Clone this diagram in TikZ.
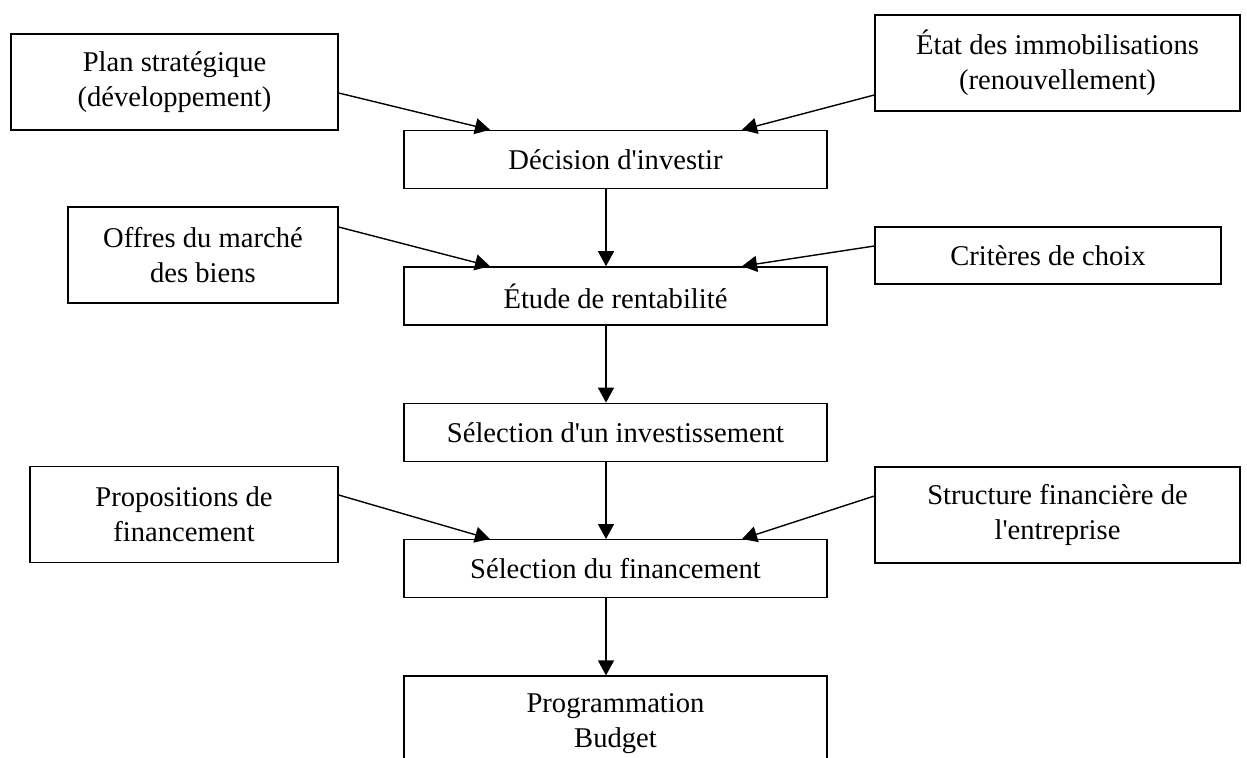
\documentclass[tikz,border=0pt]{standalone}
\usepackage{fontspec}
\setmainfont{Liberation Serif}
\usepackage{tikz}
\usetikzlibrary{positioning,arrows.meta,calc}

\begin{document}
\begin{tikzpicture}[
  x=0.5pt, y=-0.5pt,
  font=\fontsize{14.3}{17.5}\selectfont,
  line width=0.7pt,
  node distance=38.5pt,
  etape/.style={draw, align=center, minimum width=211.5pt, minimum height=29pt},
  entree/.style={draw, align=center, minimum height=48pt},
  arr/.style={-{Triangle[length=7.5pt, width=8pt]}}]
\clip (0,0) rectangle (1247,757);
% colonne centrale
\node[etape] (decision) at (615.5,159.5) {Décision d\textquotesingle investir};
\node[etape, below=of decision] (etude) {Étude de rentabilité};
\node[etape, below=of etude] (selinv) {Sélection d\textquotesingle un investissement};
\node[etape, below=of selinv] (selfin) {Sélection du financement};
\node[etape, below=of selfin, minimum height=48pt] (prog) {Programmation\\Budget};
% entrees
\node[entree, minimum width=163.5pt] (plan) at (174.5,82) {Plan stratégique\\(développement)};
\node[entree, minimum width=182.5pt] (etat) at (1057.5,63) {État des immobilisations\\(renouvellement)};
\node[entree, minimum width=135pt] (offres) at (203,255) {Offres du marché\\des biens};
\node[entree, minimum width=173pt, minimum height=28.5pt] (criteres) at (1048,255.5) {Critères de choix};
\node[entree, minimum width=154pt] (propos) at (184,514.5) {Propositions de\\financement};
\node[entree, minimum width=182.5pt] (structure) at (1057.5,515) {Structure financière de\\l\textquotesingle entreprise};
% fleches
\draw[arr] ([xshift=-4.75pt]decision.south) -- ([xshift=-4.75pt]etude.north);
\draw[arr] ([xshift=-4.75pt]etude.south) -- ([xshift=-4.75pt]selinv.north);
\draw[arr] ([xshift=-4.75pt]selinv.south) -- ([xshift=-4.75pt]selfin.north);
\draw[arr] ([xshift=-4.75pt]selfin.south) -- ([xshift=-4.75pt]prog.north);
\draw[arr] ([yshift=-5.5pt]plan.east) -- ([xshift=-62.75pt]decision.north);
\draw[arr] ([yshift=-16pt]etat.west) -- ([xshift=63.25pt]decision.north);
\draw[arr] ([yshift=14pt]offres.east) -- ([xshift=-62.75pt]etude.north);
\draw[arr] ([yshift=4.75pt]criteres.west) -- ([xshift=63.25pt]etude.north);
\draw[arr] ([yshift=9.75pt]propos.east) -- ([xshift=-62.75pt]selfin.north);
\draw[arr] ([yshift=9.5pt]structure.west) -- ([xshift=63.25pt]selfin.north);
\end{tikzpicture}
\end{document}
